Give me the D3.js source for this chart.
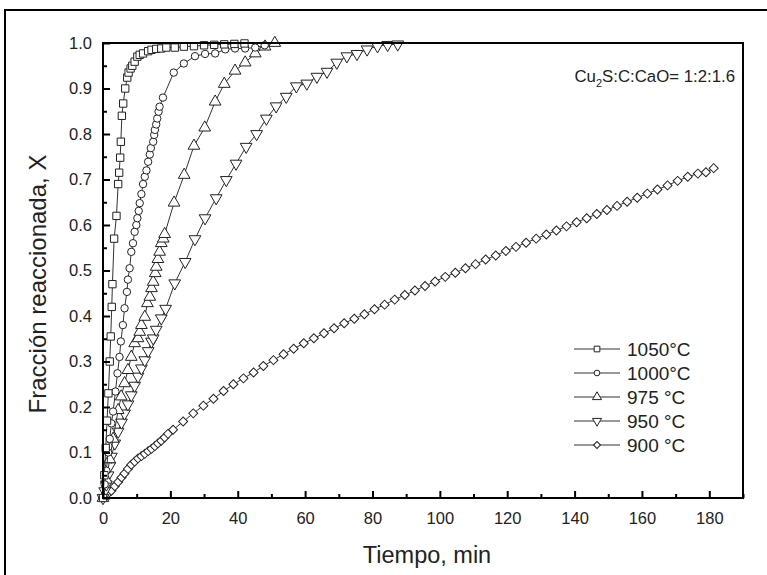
<!DOCTYPE html>
<html>
  <head>
    <meta charset="utf-8">
    <title>Fracción reaccionada vs tiempo</title>
    <script src="https://cdn.jsdelivr.net/npm/d3@7"></script>
    <style>
      body { margin: 0; background: #fff; }
      svg { font-family: "Liberation Sans", Arial, sans-serif; }
    </style>
  </head>
  <body>
    <svg id="chart" width="767" height="575"></svg>

    <script>
      // data (time in min, reacted fraction X)
      t1050 = [0, 0.4, 0.8, 1.2, 1.6, 2.0, 2.3, 2.6, 2.8, 3.3, 4.0, 4.5, 4.8, 5.1, 5.3, 5.6, 6.0, 6.6, 7.2, 7.6, 8.2, 8.7, 9.4, 10.2, 10.9, 11.9, 13.4, 14.4, 15.8, 17.3, 18.8, 21.3, 24, 27, 30, 33, 36, 39, 42];
      x1050 = [0, 0.05, 0.11, 0.17, 0.23, 0.3, 0.355, 0.42, 0.47, 0.57, 0.62, 0.69, 0.715, 0.748, 0.783, 0.84, 0.867, 0.9, 0.924, 0.935, 0.944, 0.95, 0.959, 0.97, 0.974, 0.977, 0.982, 0.985, 0.987, 0.988, 0.99, 0.99, 0.992, 0.993, 0.995, 0.996, 0.997, 0.998, 0.999];

      t1000 = [0, 0.5, 1.0, 1.5, 2.0, 2.5, 3.0, 3.7, 4.3, 4.9, 5.3, 5.9, 6.4, 7.1, 7.4, 7.9, 8.4, 8.9, 9.4, 9.9, 10.2, 10.6, 10.9, 11.4, 11.9, 12.4, 12.9, 13.4, 13.9, 14.2, 14.9, 15.2, 15.4, 15.8, 16.1, 16.5, 16.8, 17.8, 21.0, 24.0, 27.3, 30.3, 33.3, 36.3, 39.2, 42.2, 45.2, 48];
      x1000 = [0, 0.03, 0.06, 0.1, 0.13, 0.164, 0.19, 0.234, 0.274, 0.31, 0.344, 0.38, 0.417, 0.453, 0.48, 0.505, 0.541, 0.56, 0.585, 0.6, 0.615, 0.631, 0.648, 0.668, 0.69, 0.706, 0.72, 0.739, 0.755, 0.769, 0.783, 0.798, 0.809, 0.821, 0.834, 0.849, 0.86, 0.88, 0.935, 0.955, 0.971, 0.976, 0.977, 0.986, 0.988, 0.988, 0.99, 0.995];

      t975 = [0, 1, 2, 3, 4.5, 5.4, 6.4, 7.4, 8.4, 9.4, 10.4, 10.9, 11.4, 12.4, 13.2, 13.9, 14.4, 14.9, 15.5, 15.8, 16.3, 16.8, 17.3, 17.9, 18.3, 21.1, 24.1, 27.0, 30.2, 33.3, 36.0, 39.2, 42.2, 45.2, 48.1, 51];
      x975 = [0, 0.04, 0.085, 0.13, 0.193, 0.223, 0.252, 0.281, 0.31, 0.34, 0.351, 0.365, 0.38, 0.398, 0.428, 0.442, 0.461, 0.475, 0.494, 0.508, 0.525, 0.541, 0.56, 0.57, 0.58, 0.649, 0.71, 0.774, 0.814, 0.871, 0.91, 0.939, 0.957, 0.977, 0.992, 1.0];

      t950 = [0, 0.5, 1, 1.5, 2, 2.5, 3.5, 4.5, 5.5, 6.4, 7.4, 8.4, 9.4, 10.4, 11.4, 12.4, 13.4, 14.4, 14.9, 15.8, 17.3, 18.6, 21.3, 24.4, 27.3, 30.3, 33.6, 36.6, 39.5, 42.5, 45.6, 48.5, 51.4, 54.4, 57.4, 60.5, 63.5, 66.5, 69.4, 72.4, 75.4, 78.4, 81.5, 84.5, 87.5];
      x950 = [0, 0.015, 0.03, 0.05, 0.07, 0.091, 0.12, 0.146, 0.166, 0.186, 0.206, 0.226, 0.247, 0.267, 0.285, 0.303, 0.323, 0.344, 0.351, 0.37, 0.395, 0.416, 0.472, 0.519, 0.569, 0.615, 0.659, 0.699, 0.735, 0.772, 0.8, 0.834, 0.861, 0.882, 0.905, 0.911, 0.926, 0.937, 0.957, 0.971, 0.976, 0.986, 0.993, 0.996, 0.997];

      t900 = [0, 0.7, 1.5, 2.5, 3.5, 4.5, 5.5, 6.4, 7.4, 8.4, 9.4, 10.4, 11.4, 12.4, 13.4, 14.4, 15.4, 16.3, 17.3, 18.3, 19.3, 20.8, 23.8, 26.8, 29.8, 32.8, 35.8, 38.7, 41.7, 44.7, 47.6, 50.6, 53.6, 56.6, 59.6, 62.6, 65.6, 68.6, 71.6, 74.6, 77.6, 80.6, 83.6, 86.6, 89.6, 92.6, 95.6, 98.6, 101.6, 104.6, 107.6, 110.6, 113.6, 116.6, 119.6, 122.6, 125.6, 128.6, 131.6, 134.6, 137.6, 140.6, 143.6, 146.6, 149.6, 152.6, 155.6, 158.6, 161.6, 164.6, 167.6, 170.6, 173.6, 176.6, 179.0, 181.3];
      x900 = [0, 0.005, 0.01, 0.016, 0.026, 0.035, 0.045, 0.054, 0.064, 0.073, 0.08, 0.087, 0.092, 0.097, 0.103, 0.108, 0.114, 0.12, 0.126, 0.133, 0.141, 0.15, 0.168, 0.186, 0.203, 0.218, 0.235, 0.25, 0.263, 0.276, 0.29, 0.303, 0.316, 0.328, 0.34, 0.351, 0.362, 0.373, 0.384, 0.394, 0.404, 0.415, 0.425, 0.436, 0.446, 0.456, 0.466, 0.476, 0.486, 0.495, 0.505, 0.514, 0.524, 0.533, 0.543, 0.552, 0.561, 0.57, 0.579, 0.588, 0.597, 0.606, 0.615, 0.624, 0.633, 0.642, 0.651, 0.66, 0.669, 0.678, 0.687, 0.697, 0.706, 0.713, 0.716, 0.725];

      seriesNames = ["1050°C", "1000°C", "975 °C", "950 °C", "900 °C"];
      xTicks = [0, 20, 40, 60, 80, 100, 120, 140, 160, 180];
      yTicks = [0, 0.1, 0.2, 0.3, 0.4, 0.5, 0.6, 0.7, 0.8, 0.9, 1.0];

      series = [
        { name: seriesNames[0], t: t1050, x: x1050, shape: "square" },
        { name: seriesNames[1], t: t1000, x: x1000, shape: "circle" },
        { name: seriesNames[2], t: t975, x: x975, shape: "up" },
        { name: seriesNames[3], t: t950, x: x950, shape: "down" },
        { name: seriesNames[4], t: t900, x: x900, shape: "diamond" }
      ];

      // page elements
      svg = d3.select("#chart");
      left = 103; right = 743; top_ = 43; bottom = 498;
      tickFont = 16.5;

      xScale = d3.scaleLinear().domain([0, 190]).range([left, right]);
      yScale = d3.scaleLinear().domain([0, 1]).range([bottom, top_]);

      // outer frame of the figure
      svg.append("rect")
        .attr("x", 5).attr("y", 10)
        .attr("width", 770).attr("height", 580)
        .attr("fill", "none").attr("stroke", "#000").attr("stroke-width", 2);

      // symbols
      function marker(shape, size) {
        if (shape == "square") return { path: d3.symbol(d3.symbolSquare, size * 1.0)(), rot: 0 };
        if (shape == "circle") return { path: d3.symbol(d3.symbolCircle, size * 0.8)(), rot: 0 };
        if (shape == "up") return { path: d3.symbol(d3.symbolTriangle, size * 1.1)(), rot: 0 };
        if (shape == "down") return { path: d3.symbol(d3.symbolTriangle, size * 1.1)(), rot: 180 };
        return { path: d3.symbol(d3.symbolSquare, size * 0.75)(), rot: 45 };
      }

      line = d3.line()
        .x(function(d) { return xScale(d[0]); })
        .y(function(d) { return yScale(d[1]); });

      plot = svg.append("g");
      series.slice().reverse().forEach(function(s) {
        let pts = s.t.map(function(t, i) { return [t, s.x[i]]; });
        let g = plot.append("g");
        g.append("path")
          .datum(pts)
          .attr("d", line)
          .attr("fill", "none")
          .attr("stroke", "#333")
          .attr("stroke-width", 1);
        let m = marker(s.shape, 54);
        g.selectAll(".pt")
          .data(pts)
          .enter().append("path")
            .attr("d", m.path)
            .attr("transform", function(d) {
              return "translate(" + xScale(d[0]) + "," + yScale(d[1]) + ") rotate(" + m.rot + ")";
            })
            .attr("fill", "#fff")
            .attr("stroke", "#222")
            .attr("stroke-width", 1);
      });

      // axes: ticks point inward
      xAxis = d3.axisBottom(xScale)
        .tickValues(d3.range(0, 191, 10))
        .tickSize(-7)
        .tickFormat(function(d) { return d % 20 == 0 ? d : ""; });
      gx = svg.append("g").attr("transform", "translate(0," + bottom + ")").call(xAxis);
      gx.selectAll(".tick line")
        .attr("y2", function(d) { return d % 20 == 0 ? -7 : -4; })
        .attr("stroke-width", 2);
      gx.selectAll(".tick text").attr("y", 14).attr("font-size", tickFont).attr("font-family", "Liberation Sans, Arial, sans-serif").attr("fill", "#222");
      gx.select(".domain").remove();

      yAxis = d3.axisLeft(yScale)
        .tickValues(d3.range(0, 1.001, 0.05))
        .tickSize(-7)
        .tickFormat(function(d) {
          let r = Math.round(d * 20);
          return r % 2 == 0 ? d3.format(".1f")(d) : "";
        });
      gy = svg.append("g").attr("transform", "translate(" + left + ",0)").call(yAxis);
      gy.selectAll(".tick line")
        .attr("x2", function(d) { return Math.round(d * 20) % 2 == 0 ? 7 : 4; })
        .attr("stroke-width", 2);
      gy.selectAll(".tick text").attr("x", -11).attr("font-size", tickFont).attr("font-family", "Liberation Sans, Arial, sans-serif").attr("fill", "#222");
      gy.select(".domain").remove();

      // plot frame
      svg.append("rect")
        .attr("x", left).attr("y", top_)
        .attr("width", right - left).attr("height", bottom - top_)
        .attr("fill", "none").attr("stroke", "#000").attr("stroke-width", 2);

      // axis titles
      svg.append("text")
        .attr("x", 427).attr("y", 563)
        .attr("text-anchor", "middle")
        .attr("font-size", 23.5).attr("fill", "#222")
        .text("Tiempo, min");
      svg.append("text")
        .attr("transform", "translate(46,284) rotate(-90)")
        .attr("text-anchor", "middle")
        .attr("font-size", 24).attr("fill", "#222")
        .text("Fracción reaccionada, X");

      // annotation
      note = svg.append("text")
        .attr("x", 735).attr("y", 82)
        .attr("text-anchor", "end")
        .attr("font-size", 16.8).attr("fill", "#222");
      note.append("tspan").text("Cu");
      note.append("tspan").attr("font-size", 11).attr("dy", 5).text("2");
      note.append("tspan").attr("dy", -5).text("S:C:CaO= 1:2:1.6");

      // legend
      legend = svg.append("g");
      series.forEach(function(s, i) {
        let y = 349 + i * 24;
        let g = legend.append("g");
        g.append("line")
          .attr("x1", 574).attr("x2", 620)
          .attr("y1", y).attr("y2", y)
          .attr("stroke", "#333").attr("stroke-width", 1);
        let m = marker(s.shape, 32);
        g.append("path")
          .attr("d", m.path)
          .attr("transform", "translate(597," + y + ") rotate(" + m.rot + ")")
          .attr("fill", "#fff").attr("stroke", "#222");
        g.append("text")
          .attr("x", 627).attr("y", y + 7)
          .attr("font-size", 19).attr("fill", "#222")
          .text(s.name);
      });
    </script>
  </body>
</html>
